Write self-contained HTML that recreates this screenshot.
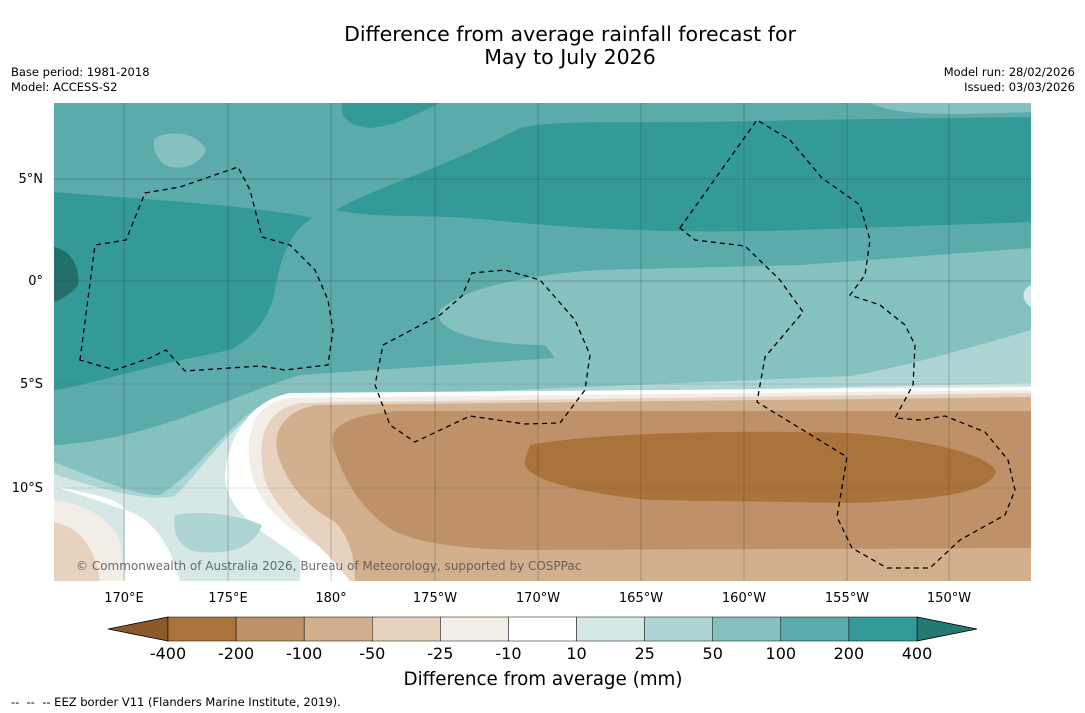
<!DOCTYPE html>
<html><head><meta charset="utf-8"><style>
body{margin:0;background:#fff;width:1085px;height:713px;overflow:hidden;font-family:"DejaVu Sans","Liberation Sans",sans-serif}
svg{display:block}
</style></head><body>
<svg width="1085" height="713" viewBox="0 0 1085 713">
<text x="570" y="41" text-anchor="middle" font-size="20.5">Difference from average rainfall forecast for</text>
<text x="570" y="64" text-anchor="middle" font-size="20.5">May to July 2026</text>
<text x="11" y="76" font-size="11.5">Base period: 1981-2018</text>
<text x="11" y="91" font-size="11.5">Model: ACCESS-S2</text>
<text x="1075" y="76" font-size="11.5" text-anchor="end">Model run: 28/02/2026</text>
<text x="1075" y="91" font-size="11.5" text-anchor="end">Issued: 03/03/2026</text>
<defs><clipPath id="mc"><rect x="54" y="103" width="977" height="478"/></clipPath></defs>
<g clip-path="url(#mc)">
<rect x="54" y="103" width="977" height="478" fill="#5aabaa"/>
<path d="M54,445 C150,440 220,400 300,375 L555,358 L545,345 C480,345 430,330 440,310 C460,290 520,275 600,270 L800,265 L1031,248 L1031,581 L54,581Z" fill="#84c1bf"/>
<path d="M54,462 C100,480 140,497 160,495 C200,470 230,420 270,400 L560,388 L850,376 C900,368 980,345 1031,330 L1031,581 L54,581Z" fill="#acd5d3"/>
<path d="M54,474 C110,492 150,502 175,496 C205,465 235,420 275,400 L1031,383 L1031,581 L54,581Z" fill="#d5e8e6"/>
<path d="M54,486 C90,494 120,498 125,510 L125,581 L1031,581 L1031,387 L290,393 C250,400 225,440 225,480 C230,520 280,540 300,560 L300,581 L180,581 C175,560 160,520 125,510Z" fill="#fff"/>
<path d="M175,515 C200,510 240,515 262,525 C255,545 235,555 200,552 C180,550 172,535 175,515Z" fill="#acd5d3"/>
<path d="M1031,390 L290,398 C258,402 245,425 250,465 C258,520 310,540 345,560 L355,581 L1031,581Z" fill="#f2ede6"/>
<path d="M54,500 C90,505 110,520 120,540 L125,581 L54,581Z" fill="#f2ede6"/>
<path d="M1031,393 L300,403 C265,410 255,440 265,480 C280,520 320,540 350,581 L1031,581Z" fill="#e6d2bf"/>
<path d="M54,522 C80,527 95,548 100,581 L54,581Z" fill="#e6d2bf"/>
<path d="M1031,397 L315,405 C283,412 272,432 278,455 C288,485 305,505 335,522 C350,537 355,560 355,581 L1031,581Z" fill="#d2b08e"/>
<path d="M1031,411 L400,411 C340,415 325,430 335,452 C345,482 362,510 392,530 C422,545 472,550 532,550 L1031,548Z" fill="#bf9168"/>
<path d="M530,445 C600,432 750,430 850,433 C930,440 990,455 996,472 C990,490 950,500 850,503 L650,500 C570,492 520,477 525,460Z" fill="#ab733c"/>
<path d="M336,210 C380,185 440,170 520,128 C560,118 650,125 800,120 L1031,117 L1031,222 L800,230 C640,235 540,225 470,218 C420,215 370,218 336,210Z" fill="#339a98"/>
<path d="M54,192 C150,200 250,205 313,218 C290,230 280,260 275,290 C270,320 250,340 230,350 C150,365 90,385 54,390Z" fill="#339a98"/>
<path d="M342,103 L440,103 C420,112 400,125 370,128 C345,125 340,115 342,103Z" fill="#339a98"/>
<path d="M54,247 C70,250 80,265 78,285 C70,295 60,300 54,302Z" fill="#23706b"/>
<path d="M155,138 C175,128 200,135 206,150 C200,165 180,172 165,165 C155,158 152,145 155,138Z" fill="#84c1bf"/>
<path d="M870,103 L1031,103 L1031,112 C970,114 900,118 870,103Z" fill="#84c1bf"/>
<path d="M1031,285 C1020,290 1022,302 1031,307Z" fill="#d5e8e6"/>
<g stroke="#333" stroke-width="0.5" opacity="0.55">
<line x1="124" y1="103" x2="124" y2="581"/><line x1="228" y1="103" x2="228" y2="581"/><line x1="331" y1="103" x2="331" y2="581"/><line x1="435" y1="103" x2="435" y2="581"/><line x1="538" y1="103" x2="538" y2="581"/><line x1="641" y1="103" x2="641" y2="581"/><line x1="744" y1="103" x2="744" y2="581"/><line x1="847" y1="103" x2="847" y2="581"/><line x1="949" y1="103" x2="949" y2="581"/>
<line x1="54" y1="179" x2="1031" y2="179"/><line x1="54" y1="281" x2="1031" y2="281"/><line x1="54" y1="384" x2="1031" y2="384" stroke-dasharray="1,1"/><line x1="54" y1="488" x2="1031" y2="488" stroke-dasharray="1,1"/>
</g>
<g fill="none" stroke="#000" stroke-width="1.3" stroke-dasharray="5,4">
<path d="M80,360 L95,245 L126,240 L145,193 L180,187 L238,167 L250,190 L262,237 L290,245 L315,270 L328,300 L333,330 L328,365 L285,370 L260,366 L185,371 L166,350 L150,358 L115,370 Z"/>
<path d="M383,345 L440,315 L462,296 L472,273 L505,270 L540,280 L575,320 L590,355 L585,390 L560,423 L525,424 L470,416 L415,442 L390,425 L375,385 Z"/>
<path d="M680,228 L757,120 L790,140 L822,178 L860,205 L870,240 L865,275 L850,295 L880,305 L905,325 L915,345 L913,385 L895,418 L920,420 L945,416 L985,432 L1008,460 L1015,490 L1005,515 L960,540 L930,568 L887,568 L852,548 L837,517 L847,457 L757,402 L765,357 L803,312 L780,280 L745,246 L695,240 Z"/>
</g>
<text x="76" y="570" font-size="12" fill="#555" opacity="0.85">© Commonwealth of Australia 2026, Bureau of Meteorology, supported by COSPPac</text>
</g>
<g font-size="13">
<text x="43" y="183" text-anchor="end">5°N</text><text x="43" y="285" text-anchor="end">0°</text><text x="43" y="388" text-anchor="end">5°S</text><text x="43" y="492" text-anchor="end">10°S</text>
</g>
<g font-size="13" text-anchor="middle">
<text x="124" y="602">170°E</text><text x="228" y="602">175°E</text><text x="331" y="602">180°</text><text x="435" y="602">175°W</text><text x="538" y="602">170°W</text><text x="641" y="602">165°W</text><text x="744" y="602">160°W</text><text x="847" y="602">155°W</text><text x="949" y="602">150°W</text>
</g>
<g id="cbar"></g>
<text x="543" y="685" text-anchor="middle" font-size="18.3">Difference from average (mm)</text>
<text x="11" y="706" font-size="11.5" xml:space="preserve">--  --  -- EEZ border V11 (Flanders Marine Institute, 2019).</text>
</svg>
<script>
const levels=["-400","-200","-100","-50","-25","-10","10","25","50","100","200","400"];
const colors=["#ab733c","#bf9168","#d2b08e","#e6d2bf","#f2ede6","#ffffff","#d5e8e6","#acd5d3","#84c1bf","#5aabaa","#339a98"];
const extendColors=["#8a5a2b","#267874"];
const NS="http://www.w3.org/2000/svg";
const g=document.getElementById("cbar");
const x0=168,x1=917,y0=617,y1=641;
const w=(x1-x0)/colors.length;
function mk(t,a){const e=document.createElementNS(NS,t);for(const k in a)e.setAttribute(k,a[k]);g.appendChild(e);return e;}
let l=mk("polygon",{points:`${x0},${y0} ${x0},${y1} 108,629`,fill:extendColors[0],stroke:"#000","stroke-width":"0.8"});


let r=mk("polygon",{points:`${x1},${y0} ${x1},${y1} 977,629`,fill:extendColors[1],stroke:"#000","stroke-width":"0.8"});


colors.forEach((c,i)=>{
 const e=mk("rect",{x:x0+i*w,y:y0,width:w,height:y1-y0,fill:c,stroke:"#000","stroke-width":"0.5"});
 
 
});
levels.forEach((t,i)=>{
 const e=mk("text",{x:x0+i*w,y:659,"text-anchor":"middle","font-size":"16"});
 e.textContent=t;
 
 
});
</script>
</body></html>
